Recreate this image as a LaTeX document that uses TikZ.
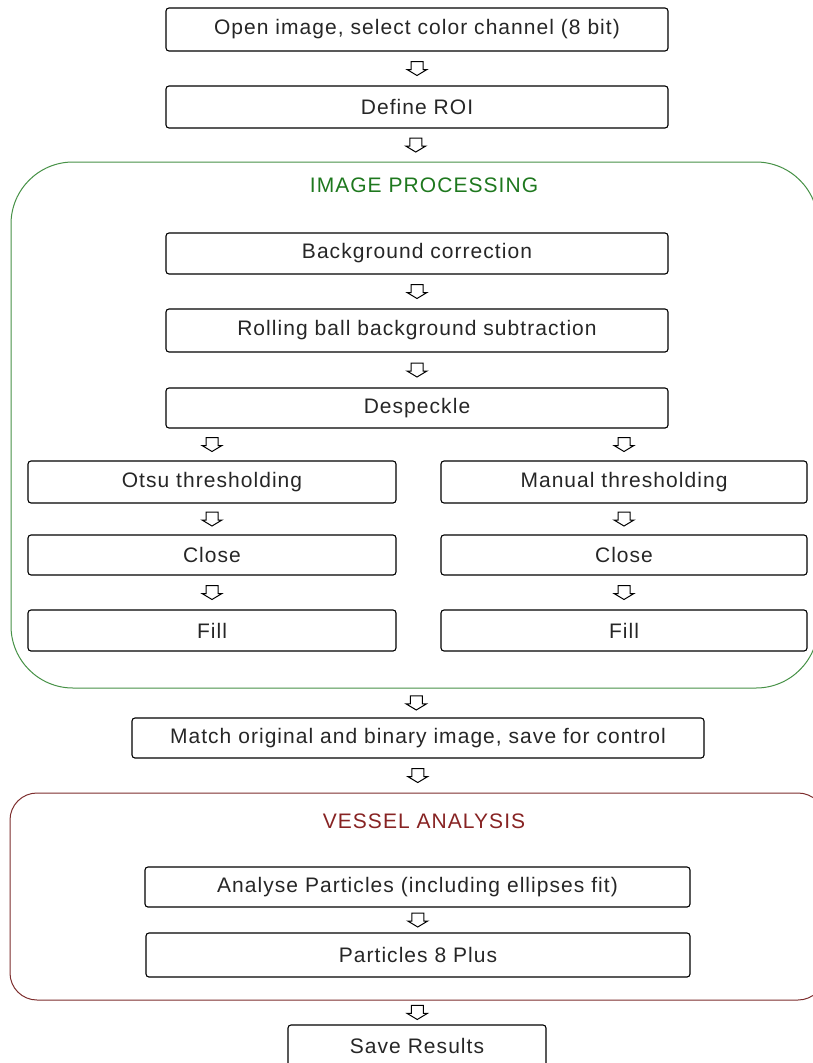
\documentclass[tikz,border=0pt]{standalone}
\usepackage{fontspec}
\setmainfont{Liberation Sans}[LetterSpace=5]
\usetikzlibrary{calc}
\definecolor{grline}{RGB}{70,145,70}
\definecolor{grtext}{RGB}{30,120,30}
\definecolor{rdline}{RGB}{125,45,45}
\definecolor{rdtext}{RGB}{135,35,35}
\tikzset{
  stepbox/.style={draw=black, line width=1.1pt, rounded corners=3pt, inner sep=0pt,
    font=\fontsize{21}{24}\selectfont, text=black!85},
  container/.style={line width=1pt, inner sep=0pt},
  title/.style={font=\fontsize{21}{24}\selectfont, inner sep=0pt},
  arrowline/.style={draw=black, line width=1pt, line join=miter},
  pics/downarr/.style={code={
    \draw[arrowline] (-6,-7) -- (6,-7) -- (6,1) -- (10,1) -- (0,7) -- (-10,1) -- (-6,1) -- cycle;}}
}
\begin{document}
\begin{tikzpicture}[x=1pt,y=-1pt]
\useasboundingbox (0,0) rectangle (812,1063);
% containers
\node[container, draw=grline, rounded corners=62pt, minimum width=807pt, minimum height=526pt] (imgproc) at (414.5,425) {};
\node[title, text=grtext] (imgtitle) at (424,185) {IMAGE PROCESSING};
\node[container, draw=rdline, rounded corners=27pt, minimum width=815pt, minimum height=207pt] (vessel) at (417.5,896.5) {};
\node[title, text=rdtext] (vestitle) at (424,821) {VESSEL ANALYSIS};
% steps
\node[stepbox, minimum width=502pt, minimum height=43pt] (open) at (417,29.5) {Open image, select color channel (8 bit)};
\node[stepbox, minimum width=502pt, minimum height=42pt] (roi) at (417,107) {Define ROI};
\node[stepbox, minimum width=502pt, minimum height=41pt] (bg) at (417,253.5) {Background correction};
\node[stepbox, minimum width=502pt, minimum height=43pt] (rb) at (417,330.5) {Rolling ball background subtraction};
\node[stepbox, minimum width=502pt, minimum height=40pt] (desp) at (417,408) {Despeckle};
\node[stepbox, minimum width=368pt, minimum height=42pt] (otsu) at (212,482) {Otsu thresholding};
\node[stepbox, minimum width=366pt, minimum height=42pt] (manual) at (624,482) {Manual thresholding};
\node[stepbox, minimum width=368pt, minimum height=40pt] (closeA) at (212,555) {Close};
\node[stepbox, minimum width=366pt, minimum height=40pt] (closeB) at (624,555) {Close};
\node[stepbox, minimum width=368pt, minimum height=41pt] (fillA) at (212,630.5) {Fill};
\node[stepbox, minimum width=366pt, minimum height=41pt] (fillB) at (624,630.5) {Fill};
\node[stepbox, minimum width=572pt, minimum height=40pt] (match) at (418,738) {Match original and binary image, save for control};
\node[stepbox, minimum width=545pt, minimum height=40pt] (analyse) at (417.5,887) {Analyse Particles (including ellipses fit)};
\node[stepbox, minimum width=544pt, minimum height=44pt] (peight) at (418,955) {Particles 8 Plus};
\node[stepbox, minimum width=258pt, minimum height=42pt] (save) at (417,1046) {Save Results};
% arrows
\pic at ($(open.south)!.5!(roi.north)$) {downarr};
\pic at ($(roi.south)!.5!(imgproc.north)$) {downarr};
\pic at ($(bg.south)!.5!(rb.north)$) {downarr};
\pic at ($(rb.south)!.5!(desp.north)$) {downarr};
\pic at ($(otsu.north)!.5!(otsu.north |- desp.south)$) {downarr};
\pic at ($(manual.north)!.5!(manual.north |- desp.south)$) {downarr};
\pic at ($(otsu.south)!.5!(closeA.north)$) {downarr};
\pic at ($(manual.south)!.5!(closeB.north)$) {downarr};
\pic at ($(closeA.south)!.5!(fillA.north)$) {downarr};
\pic at ($(closeB.south)!.5!(fillB.north)$) {downarr};
\pic at ($(imgproc.south)!.5!(match.north)$) {downarr};
\pic at ($(match.south)!.5!(vessel.north)$) {downarr};
\pic at ($(analyse.south)!.5!(peight.north)$) {downarr};
\pic at ($(vessel.south)!.5!(save.north)$) {downarr};
\end{tikzpicture}
\end{document}
